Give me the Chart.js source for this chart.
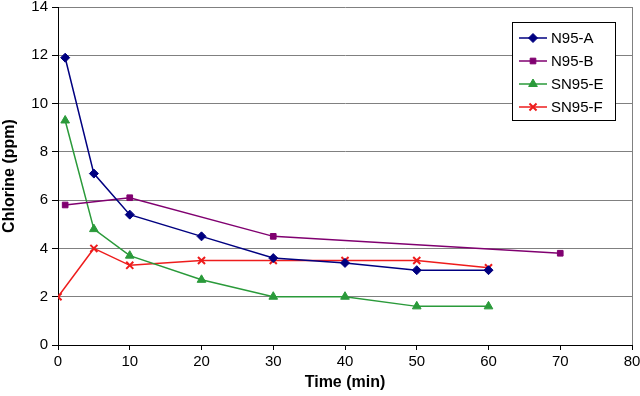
<!DOCTYPE html>
<html>
<head>
<meta charset="utf-8">
<script src="https://cdn.jsdelivr.net/npm/chart.js@4/dist/chart.umd.min.js"></script>
<style>
  html, body { margin: 0; padding: 0; background: #fff; }
  #wrap { width: 640px; height: 396px; }
</style>
</head>
<body>
<div id="wrap"><canvas id="chart"></canvas></div>
<script>
// values
const seriesNames = ['N95-A', 'N95-B', 'SN95-E', 'SN95-F']
const timeA = [1, 5, 10, 20, 30, 40, 50, 60]
const chlorineA = [11.9, 7.1, 5.4, 4.5, 3.6, 3.4, 3.1, 3.1]
const timeB = [1, 10, 30, 70]
const chlorineB = [5.8, 6.1, 4.5, 3.8]
const timeE = [1, 5, 10, 20, 30, 40, 50, 60]
const chlorineE = [9.3, 4.8, 3.7, 2.7, 2.0, 2.0, 1.6, 1.6]
const timeF = [0, 5, 10, 20, 30, 40, 50, 60]
const chlorineF = [2.0, 4.0, 3.3, 3.5, 3.5, 3.5, 3.5, 3.2]

const colors = ['#000080', '#800070', '#2a9a3a', '#ee1c1c']
const markers = ['rectRot', 'rect', 'triangle', 'crossRot']
const radii = [4.5, 4, 5, 5]
const font = 'Liberation Sans, Arial, sans-serif'

function toPoints(xs, ys) {
    return xs.map((x, i) => ({x: x, y: ys[i]}))
}
const pointSets = [toPoints(timeA, chlorineA), toPoints(timeB, chlorineB), toPoints(timeE, chlorineE), toPoints(timeF, chlorineF)]

const datasets = seriesNames.map((name, i) => ({
    label: name,
    data: pointSets[i],
    showLine: true,
    borderColor: colors[i],
    backgroundColor: colors[i],
    borderWidth: 1.5,
    pointStyle: markers[i],
    pointRadius: radii[i],
    pointBorderWidth: i == 3 ? 2 : 1,
}))

// boxed legend inside the plot, like the original
const boxLegend = {
    id: 'boxLegend',
    afterDraw(chart) {
        const c = chart.ctx
        const x = 512, y = 22, w = 103, h = 98
        c.save()
        c.fillStyle = '#fff'
        c.fillRect(x, y, w, h)
        c.strokeStyle = '#000'
        c.lineWidth = 1
        c.strokeRect(x + 0.5, y + 0.5, w, h)
        c.font = '15px ' + font
        c.textBaseline = 'middle'
        seriesNames.forEach((name, i) => {
            const ly = y + 16 + i * 23
            c.strokeStyle = colors[i]
            c.lineWidth = 1.5
            c.beginPath()
            c.moveTo(x + 7, ly)
            c.lineTo(x + 35, ly)
            c.stroke()
            c.fillStyle = colors[i]
            c.lineWidth = i == 3 ? 2 : 1
            Chart.helpers.drawPoint(c, {pointStyle: markers[i], radius: radii[i], rotation: 0, borderWidth: 1}, x + 21, ly)
            c.fillStyle = '#000'
            c.fillText(name, x + 39, ly + 1)
        })
        c.restore()
    }
}

const chart = new Chart(document.getElementById('chart'), {
    type: 'scatter',
    data: {datasets: datasets},
    options: {
        responsive: true,
        maintainAspectRatio: false,
        animation: false,
        layout: {padding: {top: 6, right: 8, left: 0, bottom: 0}},
        plugins: {legend: {display: false}, tooltip: {enabled: false}},
        scales: {
            x: {
                type: 'linear',
                min: 0,
                max: 80,
                ticks: {stepSize: 10, color: '#000', font: {family: font, size: 15}, padding: 3},
                grid: {
                    color: ctx => ctx.tick && ctx.tick.value == 80 ? '#808080' : 'rgba(0,0,0,0)',
                    tickColor: '#000',
                    tickLength: 5,
                },
                border: {color: '#000', width: 1},
                title: {display: true, text: 'Time (min)', color: '#000', font: {family: font, size: 16, weight: 'bold'}, padding: {top: 4}},
                afterFit: s => { s.height = 51; s.paddingLeft = 0; s.paddingRight = 0 },
            },
            y: {
                min: 0,
                max: 14,
                ticks: {stepSize: 2, color: '#000', font: {family: font, size: 15}, padding: 4},
                grid: {color: '#808080', tickColor: '#000', tickLength: 6},
                border: {color: '#000', width: 1},
                title: {display: true, text: 'Chlorine (ppm)', color: '#000', font: {family: font, size: 16, weight: 'bold'}, padding: {top: 0, bottom: 2}},
                afterFit: s => { s.width = 58; s.paddingTop = 0; s.paddingBottom = 0 },
            }
        }
    },
    plugins: [boxLegend]
})
</script>
</body>
</html>
